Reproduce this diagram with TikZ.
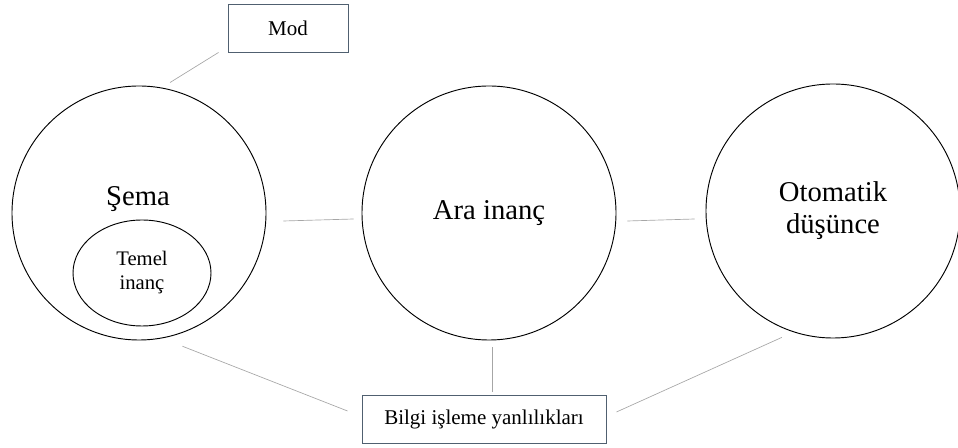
\documentclass[tikz,border=0pt]{standalone}
\usepackage{fontspec}
\setmainfont{Liberation Serif}
\usetikzlibrary{shapes.geometric}
\definecolor{boxline}{HTML}{506070}
\definecolor{linkgray}{HTML}{A6A6A6}
\tikzset{
  bigcircle/.style={circle, draw=black, line width=0.7pt, minimum size=190.5pt, inner sep=0pt, align=center,
    font=\fontsize{21.5}{24}\selectfont},
  innerellipse/.style={ellipse, draw=black, line width=0.7pt, minimum width=103.5pt, minimum height=79.5pt,
    inner sep=0pt, align=center, font=\fontsize{15.5}{18}\selectfont},
  labelbox/.style={rectangle, draw=boxline, line width=0.7pt, minimum height=36pt, inner sep=0pt,
    font=\fontsize{15.75}{18}\selectfont},
  link/.style={draw=linkgray, line width=0.5pt},
}
\begin{document}
\begin{tikzpicture}[x=0.75pt, y=-0.75pt]
  \useasboundingbox (0,0) rectangle (958,448);

  % the three stages
  \node[bigcircle] (sema) at (139,213) {};
  \node[anchor=base, font=\fontsize{21.5}{24}\selectfont] (semalabel) at (138,206) {Şema};
  \node[innerellipse] (temel) at (142,273) {Temel\\inanç};
  \node[bigcircle] (ara) at (489,213) {Ara inanç};
  \node[bigcircle] (oto) at (833,211) {Otomatik\\düşünce};

  % boxes
  \node[labelbox, minimum width=90pt] (mod) at (288,28) {Mod};
  \node[labelbox, minimum width=183pt] (bilgi) at (484,419) {Bilgi işleme yanlılıkları};

  % connectors
  \draw[link] ([shift={(2.4,-6.3)}]sema.77) -- ([shift={(-9,0)}]mod.south west);
  \draw[link] ([shift={(17,8)}]sema.east) -- ([shift={(-8,6)}]ara.west);
  \draw[link] ([shift={(11,8)}]ara.east) -- ([shift={(-11,8)}]oto.west);
  \draw[link] ([shift={(4,12)}]sema.-72) -- ([shift={(-14,-8)}]bilgi.west);
  \draw[link] ([shift={(3,7)}]ara.south) -- ([shift={(8,-3)}]bilgi.north);
  \draw[link] ([shift={(-3.4,8.2)}]oto.248) -- ([shift={(10,-7)}]bilgi.east);
\end{tikzpicture}
\end{document}
